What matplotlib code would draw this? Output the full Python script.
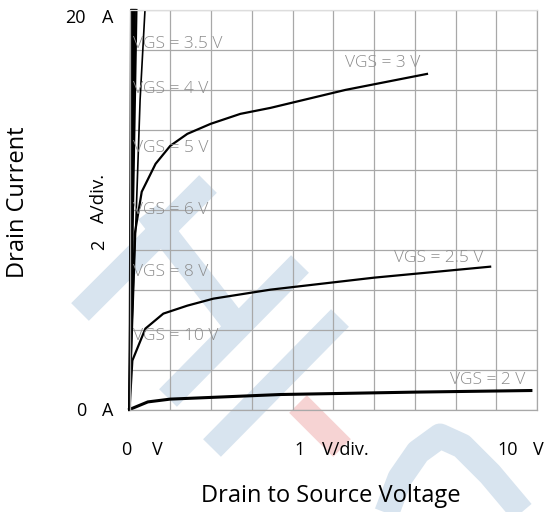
import matplotlib
matplotlib.use('Agg')
import matplotlib.pyplot as plt
from matplotlib.lines import Line2D

plt.rcParams['font.family'] = ['Open Sans', 'DejaVu Sans']

# Drain current curves (V_DS in V, I_D in A)
steep_top_x = [0.04, 0.07, 0.10, 0.13, 0.17]   # VGS = 10, 8, 6, 5, 4 V

vgs35_x = [0, 0.10, 0.26, 0.38]
vgs35_y = [0, 6.0, 15.5, 20.0]

vgs3_x = [0, 0.05, 0.13, 0.30, 0.64, 1.00, 1.42, 1.99, 2.72, 3.46, 5.3, 7.3]
vgs3_y = [0, 4.0, 8.8, 10.9, 12.3, 13.2, 13.8, 14.3, 14.8, 15.1, 16.0, 16.8]

vgs25_x = [0, 0.07, 0.39, 0.83, 1.42, 2.06, 3.46, 6.0, 8.85]
vgs25_y = [0, 2.45, 4.05, 4.8, 5.2, 5.55, 6.0, 6.6, 7.15]

vgs2_x = [0, 0.45, 1.0, 3.7, 7.0, 9.85]
vgs2_y = [0, 0.38, 0.52, 0.75, 0.87, 0.95]

# curve labels (left edge x, centre y)
label_text = ['VGS = 3.5 V', 'VGS = 4 V', 'VGS = 5 V', 'VGS = 6 V', 'VGS = 8 V',
              'VGS = 10 V', 'VGS = 3 V', 'VGS = 2.5 V', 'VGS = 2 V']
label_x = [0.08, 0.08, 0.08, 0.08, 0.08, 0.08, 5.29, 6.5, 7.87]
label_y = [18.3, 16.05, 13.1, 10.0, 6.9, 3.7, 17.35, 7.6, 1.48]

# scale labels: value and unit
x_scale_vals = ['0', '1', '10']
x_scale_units = ['V', 'V/div.', 'V']
y_scale_vals = ['20', '0']
y_scale_units = ['A', 'A']

W, H = 553, 512
fig = plt.figure(figsize=(W / 100, H / 100), dpi=100)
ax = fig.add_axes([129.5 / W, 1 - 409.5 / H, 407.5 / W, 399.5 / H])
ax.set_facecolor('none')

def fx(p):
    return p / W

def fy(p):
    return 1 - p / H

# watermark logo behind the plot
blue = '#d8e4ef'
bands = [
    ([(80, 312), (208, 184)], blue),
    ([(148, 212), (232, 320)], blue),
    ([(168, 398), (300, 264)], blue),
    ([(212, 448), (340, 318)], blue),
    ([(298, 404), (342, 448)], '#f6d3d3'),
    ([(384, 520), (400, 478), (418, 452), (440, 436), (462, 446), (490, 474), (522, 512)], blue),
]
for pts, col in bands:
    fig.add_artist(Line2D([fx(p[0]) for p in pts], [fy(p[1]) for p in pts],
                          transform=fig.transFigure, color=col, lw=18,
                          solid_capstyle='butt', solid_joinstyle='round', zorder=-5))

ax.set_xlim(0, 10)
ax.set_ylim(0, 20)
ax.set_xticks(range(0, 11))
ax.set_yticks(range(0, 21, 2))
ax.tick_params(length=0, labelbottom=False, labelleft=False)
ax.grid(True, color='#a8a8a8', lw=0.9)
for s in ax.spines.values():
    s.set_color('#a8a8a8')
    s.set_linewidth(0.9)
ax.spines['top'].set_color('#dddddd')
ax.set_axisbelow(True)

lw = 1.6
for tx in steep_top_x:
    ax.plot([0, tx], [0, 20], color='black', lw=lw, clip_on=False)
ax.plot(vgs35_x, vgs35_y, color='black', lw=1.2)
ax.plot(vgs3_x, vgs3_y, color='black', lw=lw)
ax.plot(vgs25_x, vgs25_y, color='black', lw=lw)
ax.plot(vgs2_x, vgs2_y, color='black', lw=2.2, clip_on=False)

for t, x, y in zip(label_text, label_x, label_y):
    ax.text(x, y, t, color='#8c8c8c', fontsize=12.5, fontweight='light',
            ha='left', va='center')

# scale labels
fs = 13
x_val_right = [131, 305, 518]
x_unit_left = [152, 322, 533]
for v, u, r, l in zip(x_scale_vals, x_scale_units, x_val_right, x_unit_left):
    fig.text(fx(r), fy(455), v, fontsize=fs, ha='right', va='baseline')
    fig.text(fx(l), fy(455), u, fontsize=fs, ha='left', va='baseline')
y_base = [23, 416]
for v, u, b in zip(y_scale_vals, y_scale_units, y_base):
    fig.text(fx(86), fy(b), v, fontsize=fs, ha='right', va='baseline')
    fig.text(fx(113), fy(b), u, fontsize=fs, ha='right', va='baseline')
fig.text(fx(108), fy(250), '2', fontsize=fs, rotation=90, ha='right', va='bottom')
fig.text(fx(108), fy(223), 'A/div.', fontsize=13.5, rotation=90, ha='right', va='bottom')

fig.text(fx(30), fy(202), 'Drain Current', fontsize=17, rotation=90, ha='right', va='center')
fig.text(fx(331), fy(502), 'Drain to Source Voltage', fontsize=17, ha='center', va='baseline')

fig.savefig('out.png', dpi=100)
